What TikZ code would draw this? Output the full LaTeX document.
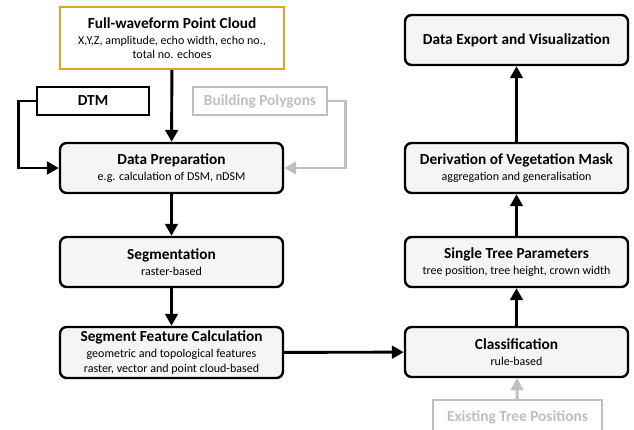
\documentclass[tikz,border=0pt]{standalone}
\usepackage{fontspec}
\setmainfont{Carlito}
\usetikzlibrary{arrows.meta}
\definecolor{boxfill}{HTML}{F4F5F7}
\definecolor{gold}{HTML}{DAA520}
\definecolor{lgray}{HTML}{BFBFBF}
\tikzset{
  procbox/.style={draw=black, line width=1.8pt, rounded corners=5pt, fill=boxfill,
    minimum width=167.25pt, minimum height=37.5pt, align=center, inner sep=0pt,
    font=\fontsize{11.5}{13}\selectfont},
  inbox/.style={draw=black, line width=1.8pt, fill=white, minimum height=21pt,
    inner sep=0pt, font=\fontsize{11.5}{13}\selectfont\bfseries},
  graybox/.style={inbox, draw=lgray, text=lgray},
  conn/.style={line width=2.2pt, -{Triangle[length=9pt,width=9.5pt]}},
  gconn/.style={conn, draw=lgray}
}
\newcommand{\subt}[1]{{\fontsize{9}{11}\selectfont #1}}
\begin{document}
\begin{tikzpicture}[x=0.75pt,y=-0.75pt]
\useasboundingbox (0,0) rectangle (634,429);
\node[procbox, draw=gold, fill=white, rounded corners=0pt, minimum width=168pt, minimum height=46.5pt] (fw) at (172,38)
  {\textbf{Full-waveform Point Cloud}\\[-1pt]\subt{X,Y,Z, amplitude, echo width, echo no.,}\\[-2pt]\subt{total no. echoes}};
\node[inbox, minimum width=84pt] (dtm) at (93,101) {DTM};
\node[graybox, minimum width=100.5pt] (bp) at (260,101) {Building Polygons};
\node[procbox] (prep) at (171.5,168) {\textbf{Data Preparation}\\[-1pt]\subt{e.g. calculation of DSM, nDSM}};
\node[procbox] (seg) at (171.5,262) {\textbf{Segmentation}\\[-1pt]\subt{raster-based}};
\node[procbox, minimum height=38.25pt] (sfc) at (171.5,352.5) {\textbf{Segment Feature Calculation}\\[-1pt]\subt{geometric and topological features}\\[-2pt]\subt{raster, vector and point cloud-based}};
\node[procbox] (cls) at (516.5,352) {\textbf{Classification}\\[-1pt]\subt{rule-based}};
\node[graybox, minimum width=126.75pt, minimum height=25.5pt] (etp) at (517.5,417) {Existing Tree Positions};
\node[procbox] (stp) at (516.5,262) {\textbf{Single Tree Parameters}\\[-1pt]\subt{tree position, tree height, crown width}};
\node[procbox] (der) at (516.5,168) {\textbf{Derivation of Vegetation Mask}\\[-1pt]\subt{aggregation and generalisation}};
\node[procbox] (exp) at (516.5,40) {\textbf{Data Export and Visualization}};
\draw[conn] (fw) -- (prep);
\draw[conn] (dtm.west) -- ++(-17,0) |- (prep.west);
\draw[gconn] (bp.east) -- ++(17,0) |- (prep.east);
\draw[conn] (prep) -- (seg);
\draw[conn] (seg) -- (sfc);
\draw[conn] (sfc) -- (cls);
\draw[gconn] (etp) -- (cls);
\draw[conn] (cls) -- (stp);
\draw[conn] (stp) -- (der);
\draw[conn] (der) -- (exp);
\end{tikzpicture}
\end{document}
